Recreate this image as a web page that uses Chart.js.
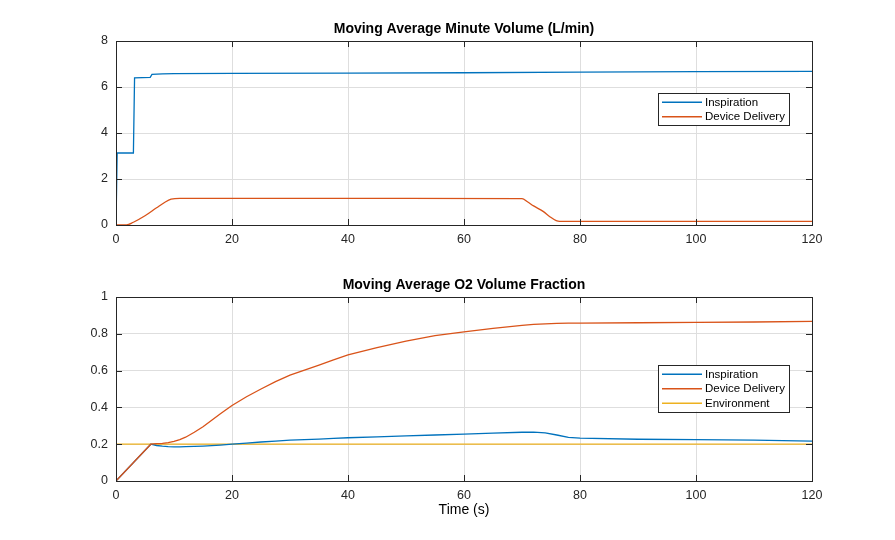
<!DOCTYPE html>
<html>
<head>
<meta charset="utf-8">
<script src="https://cdn.jsdelivr.net/npm/chart.js@4.4.1/dist/chart.umd.min.js"></script>
<style>
  html, body { margin: 0; padding: 0; background: #fff; }
  #wrap { position: relative; width: 895px; height: 540px; }
  .box { position: absolute; left: 0; width: 895px; }
</style>
</head>
<body>
<div id="wrap">
  <div class="box" style="top:0;height:270px"><canvas id="topChart"></canvas></div>
  <div class="box" style="top:256px;height:284px"><canvas id="bottomChart"></canvas></div>
</div>
<script>
// minute volume (L/min)
const inspTime = [0, 0.2, 3.0, 3.2, 5.9, 6.2, 8, 10, 20, 40, 60, 80, 100, 120];
const inspMinute = [0, 3.13, 3.13, 6.4, 6.42, 6.55, 6.57, 6.58, 6.59, 6.6, 6.62, 6.65, 6.67, 6.68];
const devTime = [0, 1.8, 3, 5, 7, 8.5, 9.5, 11, 30, 50, 70, 71, 72, 73.7, 74.8, 75.9, 76.5, 90, 120];
const devMinute = [0, 0, 0.12, 0.4, 0.75, 1.0, 1.12, 1.16, 1.16, 1.16, 1.15, 1.0, 0.83, 0.58, 0.36, 0.19, 0.16, 0.16, 0.16];

// O2 volume fraction
const o2Time = [0, 6, 7, 8, 9, 10, 11, 12, 13.5, 15, 16.5, 18, 20, 22.5, 25, 27.5, 30, 32.5, 35, 37.5, 40, 45, 50, 55, 60, 65, 70, 72, 74, 76, 78, 80, 90, 100, 110, 120];
const inspO2 = [0, 0.2, 0.193, 0.189, 0.187, 0.186, 0.186, 0.187, 0.188, 0.19, 0.192, 0.195, 0.2, 0.206, 0.212, 0.217, 0.222, 0.225, 0.228, 0.232, 0.235, 0.24, 0.245, 0.25, 0.255, 0.26, 0.265, 0.266, 0.262, 0.25, 0.237, 0.233, 0.227, 0.225, 0.222, 0.217];
const devO2 = [0, 0.2, 0.203, 0.205, 0.209, 0.215, 0.225, 0.238, 0.265, 0.295, 0.33, 0.365, 0.41, 0.458, 0.5, 0.54, 0.575, 0.603, 0.63, 0.658, 0.685, 0.725, 0.76, 0.79, 0.81, 0.83, 0.846, 0.851, 0.854, 0.857, 0.858, 0.858, 0.86, 0.862, 0.864, 0.868];
const envTime = [0, 120];
const envO2 = [0.2, 0.2];

const xTicks = [0, 20, 40, 60, 80, 100, 120];
const yTicksTop = [0, 2, 4, 6, 8];
const yTicksBottom = [0, 0.2, 0.4, 0.6, 0.8, 1];

const BLUE = "#0072BD";
const ORANGE = "#D95319";
const YELLOW = "#EDB120";
const FONT = "'Liberation Sans', Arial, Helvetica, sans-serif";

function pts(xs, ys) {
  return xs.map((x, i) => ({ x: x, y: ys[i] }));
}

// matlab-ish box, inward ticks, title and legend inside the axes
const boxPlugin = {
  id: "matlabBox",
  afterDraw(chart, args, opts) {
    const c = chart.ctx;
    const a = chart.chartArea;
    c.save();
    c.strokeStyle = "#262626";
    c.lineWidth = 1;
    c.strokeRect(Math.round(a.left) + 0.5, Math.round(a.top) + 0.5, Math.round(a.right - a.left), Math.round(a.bottom - a.top));
    const xs = chart.scales.x, ys = chart.scales.y;
    c.beginPath();
    xs.ticks.forEach((t) => {
      const px = Math.round(xs.getPixelForValue(t.value)) + 0.5;
      c.moveTo(px, a.bottom); c.lineTo(px, a.bottom - 6);
      c.moveTo(px, a.top); c.lineTo(px, a.top + 6);
    });
    ys.ticks.forEach((t) => {
      const py = Math.round(ys.getPixelForValue(t.value)) + 0.5;
      c.moveTo(a.left, py); c.lineTo(a.left + 6, py);
      c.moveTo(a.right, py); c.lineTo(a.right - 6, py);
    });
    c.stroke();

    // title
    c.fillStyle = "#000";
    c.font = "bold 14px " + FONT;
    c.textAlign = "center";
    c.textBaseline = "middle";
    c.fillText(opts.title, (a.left + a.right) / 2, a.top - 12);

    // legend
    const sets = chart.data.datasets;
    const w = 131, rowH = 14.5;
    const h = sets.length * rowH + 3;
    const lx = a.right - opts.right - w;
    const ly = a.top + opts.top;
    c.fillStyle = "#fff";
    c.fillRect(lx, ly, w, h);
    c.strokeStyle = "#262626";
    c.strokeRect(Math.round(lx) + 0.5, Math.round(ly) + 0.5, w, Math.round(h));
    c.font = "11.5px " + FONT;
    c.textAlign = "left";
    sets.forEach((d, i) => {
      const y = ly + 3 + rowH * i + rowH / 2 - 1;
      c.strokeStyle = d.borderColor;
      c.lineWidth = 1.5;
      c.beginPath();
      c.moveTo(lx + 4, y); c.lineTo(lx + 44, y);
      c.stroke();
      c.fillStyle = "#000";
      c.fillText(d.label, lx + 47, y + 0.5);
    });
    c.restore();
  }
};

function makeOptions(title, yMax, yTicks, xHeight, xTitle, legendTop) {
  return {
    responsive: true,
    maintainAspectRatio: false,
    animation: false,
    layout: { padding: { left: 0, right: 83, top: 41, bottom: 0 } },
    elements: { point: { radius: 0 }, line: { borderWidth: 1.3, tension: 0 } },
    plugins: {
      legend: { display: false },
      tooltip: { enabled: false },
      title: { display: false },
      matlabBox: { right: 23, top: legendTop, title: title }
    },
    scales: {
      x: {
        type: "linear",
        min: 0, max: 120,
        afterBuildTicks: (s) => { s.ticks = xTicks.map((v) => ({ value: v })); },
        afterFit: (s) => { s.height = xHeight; },
        grid: { color: "#dedede", drawTicks: false },
        border: { display: false },
        ticks: { color: "#262626", padding: 7, font: { family: FONT, size: 12.5 }, maxRotation: 0 },
        title: {
          display: !!xTitle,
          text: xTitle || "",
          color: "#000",
          font: { family: FONT, size: 14 },
          padding: { top: 0, bottom: 21 }
        }
      },
      y: {
        min: 0, max: yMax,
        afterBuildTicks: (s) => { s.ticks = yTicks.map((v) => ({ value: v })); },
        afterFit: (s) => { s.width = 116; },
        grid: { color: "#dedede", drawTicks: false },
        border: { display: false },
        ticks: {
          color: "#262626", padding: 8, font: { family: FONT, size: 12.5 },
          callback: (v) => String(Math.round(v * 10) / 10)
        }
      }
    }
  };
}

new Chart(document.getElementById("topChart"), {
  type: "line",
  data: {
    datasets: [
      { label: "Inspiration", data: pts(inspTime, inspMinute), borderColor: BLUE, order: 2 },
      { label: "Device Delivery", data: pts(devTime, devMinute), borderColor: ORANGE, cubicInterpolationMode: "monotone", order: 1 }
    ]
  },
  options: makeOptions("Moving Average Minute Volume (L/min)", 8, yTicksTop, 45, null, 52),
  plugins: [boxPlugin]
});

new Chart(document.getElementById("bottomChart"), {
  type: "line",
  data: {
    datasets: [
      { label: "Inspiration", data: pts(o2Time, inspO2), borderColor: BLUE, order: 2 },
      { label: "Device Delivery", data: pts(o2Time, devO2), borderColor: ORANGE, order: 1 },
      { label: "Environment", data: pts(envTime, envO2), borderColor: YELLOW, order: 3 }
    ]
  },
  options: makeOptions("Moving Average O2 Volume Fraction", 1, yTicksBottom, 59, "Time (s)", 68),
  plugins: [boxPlugin]
});
</script>
</body>
</html>
